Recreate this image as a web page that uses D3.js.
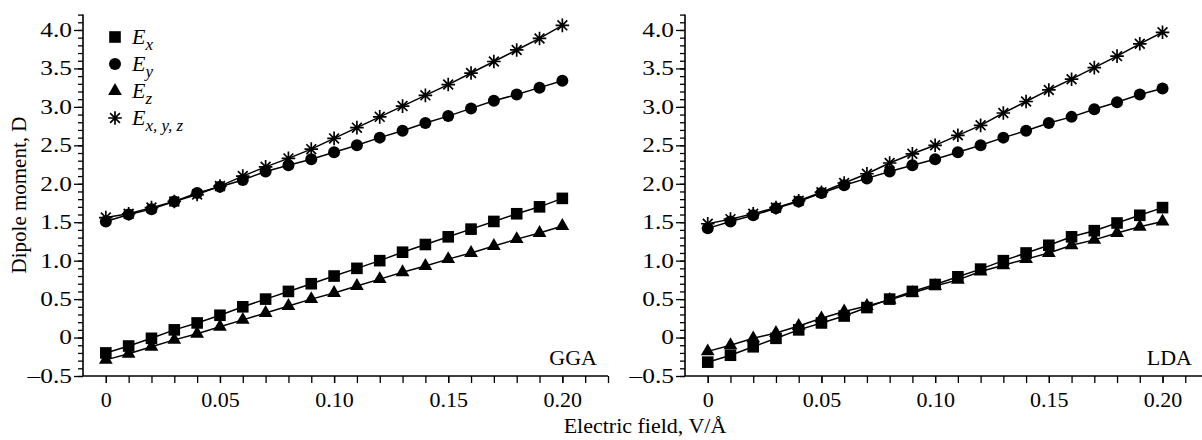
<!DOCTYPE html>
<html>
<head>
<meta charset="utf-8">
<script src="https://cdn.jsdelivr.net/npm/d3@7"></script>
<style>
  body { margin: 0; background: #fff; }
  svg text { font-family: "Liberation Serif", "Times New Roman", serif !important; fill: #000; }
</style>
</head>
<body>
<div id="chart"></div>
<script>
// electric field, V/A
const field = [0, 0.01, 0.02, 0.03, 0.04, 0.05, 0.06, 0.07, 0.08, 0.09, 0.10,
               0.11, 0.12, 0.13, 0.14, 0.15, 0.16, 0.17, 0.18, 0.19, 0.20];

// dipole moment, D  (GGA)
const ggaEx   = [-0.20,-0.11,-0.01,0.10,0.19,0.29,0.40,0.50,0.60,0.70,0.80,0.90,1.00,1.11,1.21,1.31,1.41,1.51,1.61,1.70,1.81];
const ggaEy   = [1.51,1.60,1.67,1.77,1.88,1.96,2.05,2.16,2.24,2.32,2.41,2.50,2.60,2.69,2.79,2.88,2.98,3.08,3.16,3.25,3.34];
const ggaEz   = [-0.29,-0.21,-0.12,-0.03,0.05,0.14,0.23,0.32,0.41,0.50,0.58,0.67,0.76,0.85,0.93,1.02,1.10,1.19,1.28,1.36,1.45];
const ggaExyz = [1.56,1.61,1.69,1.77,1.86,1.97,2.10,2.22,2.33,2.45,2.59,2.73,2.87,3.01,3.15,3.29,3.44,3.59,3.74,3.89,4.06];

// dipole moment, D  (LDA)
const ldaEx   = [-0.32,-0.23,-0.12,-0.01,0.10,0.19,0.28,0.39,0.50,0.60,0.69,0.79,0.89,1.00,1.10,1.20,1.31,1.39,1.49,1.59,1.69];
const ldaEy   = [1.42,1.51,1.59,1.68,1.77,1.88,1.98,2.07,2.16,2.24,2.32,2.41,2.50,2.60,2.69,2.79,2.87,2.97,3.06,3.16,3.24];
const ldaEz   = [-0.18,-0.10,-0.01,0.06,0.15,0.25,0.34,0.41,0.49,0.58,0.67,0.75,0.86,0.94,1.02,1.10,1.20,1.27,1.36,1.44,1.51];
const ldaExyz = [1.48,1.54,1.61,1.69,1.78,1.89,2.01,2.13,2.27,2.39,2.50,2.63,2.76,2.92,3.07,3.22,3.36,3.51,3.66,3.82,3.97];

const seriesNames = ["x", "y", "z", "x, y, z"];
const seriesShapes = ["square", "circle", "triangle", "asterisk"];
const panelNames = ["GGA", "LDA"];

const xMajorTicks = [0, 0.05, 0.10, 0.15, 0.20];
const xTickLabels = ["0", "0.05", "0.10", "0.15", "0.20"];
const yMajorTicks = [-0.5, 0, 0.5, 1.0, 1.5, 2.0, 2.5, 3.0, 3.5, 4.0];
const yTickLabels = ["\u20130.5", "0", "0.5", "1.0", "1.5", "2.0", "2.5", "3.0", "3.5", "4.0"];

const width = 1202, height = 440;
const svg = d3.select("#chart").append("svg")
    .attr("width", width)
    .attr("height", height);

const panels = [
    {name: panelNames[0], left: 83, right: 608, labelX: 597, series: [ggaEx, ggaEy, ggaEz, ggaExyz]},
    {name: panelNames[1], left: 685, right: 1208, labelX: 1192, series: [ldaEx, ldaEy, ldaEz, ldaExyz]}
];

const yScale = d3.scaleLinear().domain([-0.5, 4.2]).range([376, 14.6]);

// minor tick positions
const xMinor = d3.range(0, 23).map(i => +(i * 0.01).toFixed(2));
const yMinor = d3.range(-5, 43).map(i => +(i * 0.1).toFixed(1));

function drawMarker(g, shape, x, y){
    if(shape === "square"){
        g.append("rect").attr("x", x - 5.8).attr("y", y - 5.8)
            .attr("width", 11.6).attr("height", 11.6).attr("fill", "#000");
    }else if(shape === "circle"){
        g.append("circle").attr("cx", x).attr("cy", y).attr("r", 6).attr("fill", "#000");
    }else if(shape === "triangle"){
        g.append("path").attr("transform", `translate(${x},${y})`)
            .attr("d", d3.symbol().type(d3.symbolTriangle).size(82)()).attr("fill", "#000");
    }else{
        let r = 6.8, d = r * 0.72;
        g.append("path")
            .attr("d", `M${x},${y-r}V${y+r}M${x-r},${y}H${x+r}M${x-d},${y-d}L${x+d},${y+d}M${x-d},${y+d}L${x+d},${y-d}`)
            .attr("stroke", "#000").attr("stroke-width", 1.7).attr("fill", "none");
    }
}

panels.forEach(function(p){
    let xScale = d3.scaleLinear().domain([-0.01, 0.22]).range([p.left, p.right]);
    let g = svg.append("g");

    // y axis: minor ticks then labelled major ticks
    g.append("g").attr("transform", `translate(${p.left},0)`)
        .call(d3.axisLeft(yScale).tickValues(yMinor).tickSize(5).tickFormat(""))
        .call(a => a.select(".domain").remove())
        .selectAll("line").attr("stroke-width", 1.3);
    let yAx = g.append("g").attr("transform", `translate(${p.left},0)`)
        .call(d3.axisLeft(yScale).tickValues(yMajorTicks).tickSize(9).tickPadding(2)
            .tickFormat((d, i) => yTickLabels[i]));
    yAx.select(".domain").attr("d", `M0,${yScale(4.2)}V${yScale(-0.5)}`).attr("stroke-width", 1.6);
    yAx.selectAll("line").attr("stroke-width", 1.3);
    // labels in the source are drawn wide
    yAx.selectAll("text").style("font-size", "20px")
        .each(function(){
            let w = this.getComputedTextLength();
            d3.select(this).attr("textLength", w * 1.27).attr("lengthAdjust", "spacingAndGlyphs");
        });

    // x axis
    g.append("g").attr("transform", `translate(0,376)`)
        .call(d3.axisBottom(xScale).tickValues(xMinor).tickSize(7).tickFormat(""))
        .call(a => a.select(".domain").remove())
        .selectAll("line").attr("stroke-width", 1.3);
    let xAx = g.append("g").attr("transform", `translate(0,376)`)
        .call(d3.axisBottom(xScale).tickValues(xMajorTicks).tickSize(7).tickPadding(8)
            .tickFormat((d, i) => xTickLabels[i]));
    xAx.select(".domain").attr("d", `M${p.left},0H${p.right}`).attr("stroke-width", 1.6);
    xAx.selectAll("line").attr("stroke-width", 1.3);
    xAx.selectAll("text").style("font-size", "22px");

    // lines and markers
    let line = d3.line().x((d, i) => xScale(field[i])).y(d => yScale(d));
    p.series.forEach(function(vals, s){
        g.append("path").attr("d", line(vals))
            .attr("fill", "none").attr("stroke", "#000").attr("stroke-width", 1.5);
        vals.forEach((v, i) => drawMarker(g, seriesShapes[s], xScale(field[i]), yScale(v)));
    });

    g.append("text").attr("x", p.labelX).attr("y", 365)
        .attr("text-anchor", "end").style("font-size", "22px").text(p.name);
});

// legend
let leg = svg.append("g");
seriesNames.forEach(function(n, i){
    let y = 37 + i * 27;
    drawMarker(leg, seriesShapes[i], 115, y);
    let t = leg.append("text").attr("x", 132).attr("y", y + 7)
        .style("font-size", "22px").style("font-style", "italic");
    t.append("tspan").text("E");
    t.append("tspan").attr("dy", 6).style("font-size", "17px").text(n);
});

// axis titles
svg.append("text").attr("transform", "translate(26,195) rotate(-90)")
    .attr("text-anchor", "middle").style("font-size", "21px").text("Dipole moment, D");
svg.append("text").attr("x", 645).attr("y", 433)
    .attr("text-anchor", "middle").style("font-size", "22px").text("Electric field, V/\u00C5");
</script>
</body>
</html>
